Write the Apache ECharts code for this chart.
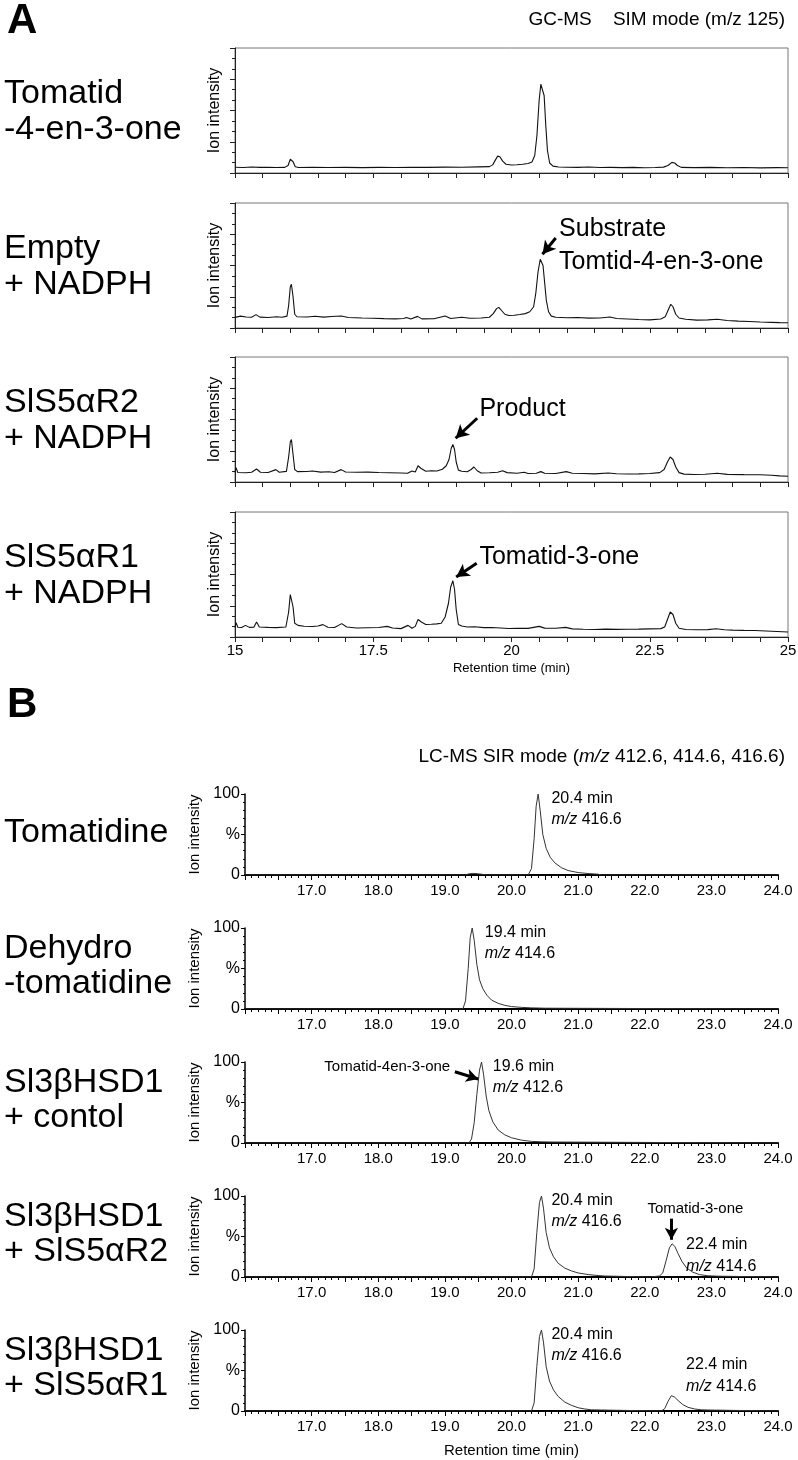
<!DOCTYPE html>
<html><head><meta charset="utf-8">
<script src="https://cdn.jsdelivr.net/npm/echarts@6/dist/echarts.min.js"></script>
<style>html,body{margin:0;padding:0;background:#fff}#c{width:798px;height:1460px}</style>
</head><body><div id="c"></div><script>
const FONT = '"Liberation Sans", Arial, Helvetica, sans-serif';

// ---------- Panel A : GC-MS SIM (m/z 125) ----------
const gcLabels = [['Tomatid','-4-en-3-one'],['Empty','+ NADPH'],['SlS5αR2','+ NADPH'],['SlS5αR1','+ NADPH']];
const gcTicks = [15, 17.5, 20, 22.5, 25];
const gcStandard = [[15.0,4.6],[15.15,4.4],[15.3,4.8],[15.45,4.5],[15.6,4.6],[15.75,4.4],[15.9,4.5],[15.96,6],[16.0,11],[16.02,12],[16.05,9],[16.09,5],[16.15,4.4],[16.4,4.6],[16.7,4.4],[17.0,4.5],[17.3,4.3],[17.6,4.5],[17.9,4.4],[18.2,4.6],[18.5,4.5],[18.8,4.7],[19.1,4.6],[19.4,4.9],[19.6,5.1],[19.66,6.5],[19.71,10.5],[19.75,13.5],[19.79,13],[19.84,9.5],[19.9,7],[20.0,6.4],[20.1,6.6],[20.2,7],[20.3,7.6],[20.37,8.8],[20.42,14],[20.46,30],[20.5,58],[20.53,71],[20.56,72],[20.59,62],[20.62,38],[20.65,18],[20.69,8],[20.75,5.5],[20.85,4.8],[21.0,4.6],[21.2,4.5],[21.4,4.8],[21.6,4.4],[21.8,4.5],[22.0,4.3],[22.2,4.5],[22.4,4.2],[22.6,4.4],[22.75,4.7],[22.83,6],[22.9,8.5],[22.95,8],[23.0,6],[23.07,4.5],[23.3,4.3],[23.6,4.5],[23.9,4.2],[24.2,4.4],[24.5,4.1],[24.8,4.3],[25.0,4.2]];
const gcEmpty = [[15.0,8.5],[15.1,9.5],[15.2,8.8],[15.3,8.6],[15.38,10.7],[15.45,8.7],[15.6,8.4],[15.75,9],[15.85,8.6],[15.94,9.5],[15.97,18],[16.0,33],[16.02,35],[16.05,25],[16.08,11],[16.12,9],[16.3,8.8],[16.45,9.4],[16.6,8.7],[16.75,9.2],[16.92,9.6],[17.05,8.4],[17.3,8],[17.5,7.8],[17.7,7.5],[17.9,7.3],[18.05,7.6],[18.1,8.4],[18.18,7.2],[18.3,9.3],[18.38,7.3],[18.6,7.4],[18.8,9.6],[18.9,7.6],[19.1,8.6],[19.25,7.8],[19.45,8],[19.6,8.6],[19.67,11.5],[19.73,15.5],[19.77,16.5],[19.82,14],[19.88,11],[19.95,10],[20.05,10.2],[20.15,10.8],[20.25,11.5],[20.33,13],[20.4,17],[20.44,28],[20.48,45],[20.52,55],[20.54,55.5],[20.57,50],[20.6,36],[20.63,22],[20.67,13],[20.72,9.5],[20.8,8.6],[21.0,8.2],[21.2,8.4],[21.4,7.9],[21.6,8],[21.78,8.8],[21.9,7.6],[22.1,7.2],[22.3,6.8],[22.5,6.5],[22.7,7.2],[22.78,9],[22.84,15],[22.88,19],[22.92,17],[22.97,11],[23.03,8],[23.15,7],[23.35,6.3],[23.55,6.5],[23.72,7],[23.9,6],[24.1,5.5],[24.3,5.2],[24.5,4.8],[24.7,4.5],[24.85,4.3],[25.0,4.2]];
const gcR2 = [[15.0,7.5],[15.02,11.5],[15.05,7.6],[15.2,7.4],[15.3,7.8],[15.39,10.4],[15.46,7.8],[15.6,7.6],[15.74,9.9],[15.8,7.8],[15.93,8.5],[15.97,20],[16.0,32],[16.02,34],[16.05,22],[16.08,10],[16.13,8.3],[16.3,8.4],[16.4,8.8],[16.55,7.9],[16.7,8.2],[16.8,7.6],[16.92,9.9],[17.0,8],[17.2,7.8],[17.4,7.9],[17.6,7.6],[17.8,7.4],[18.0,7.2],[18.12,7],[18.2,8.8],[18.26,8],[18.31,13],[18.36,11],[18.45,8.6],[18.55,9],[18.65,8.8],[18.75,10.2],[18.82,13],[18.87,18],[18.91,27],[18.94,30],[18.97,26],[19.0,16],[19.04,9.5],[19.1,8.6],[19.2,8.2],[19.27,10],[19.32,12],[19.38,9],[19.45,7.2],[19.6,7.4],[19.75,7.8],[19.84,9],[19.92,7.5],[20.1,7],[20.23,7.8],[20.3,6.8],[20.45,7],[20.53,8.3],[20.6,7],[20.8,6.8],[20.99,8.3],[21.1,7],[21.3,6.8],[21.5,6.5],[21.75,7.2],[21.9,6.6],[22.1,6.4],[22.3,6.5],[22.5,6.8],[22.68,7.5],[22.76,10],[22.82,16],[22.87,20],[22.92,18],[22.97,12],[23.03,7.5],[23.12,6.3],[23.3,6],[23.5,6.2],[23.72,7],[23.9,6.1],[24.2,5.9],[24.5,5.8],[24.7,5.4],[24.85,4.9],[25.0,4.6]];
const gcR1 = [[15.0,7.6],[15.02,11.5],[15.05,7.8],[15.12,7.6],[15.19,9.3],[15.26,7.7],[15.34,7.8],[15.39,12],[15.44,8],[15.6,7.7],[15.75,7.5],[15.92,8],[15.97,20],[16.0,34],[16.02,35.5],[16.05,24],[16.08,11],[16.14,9.3],[16.25,8.6],[16.4,8.4],[16.5,8.8],[16.59,9.9],[16.68,7.8],[16.8,7.6],[16.93,10.7],[17.02,8],[17.2,7.2],[17.4,7.4],[17.6,7.6],[17.75,8.5],[17.85,7.2],[18.0,6.7],[18.13,9.3],[18.2,7],[18.26,8.5],[18.31,14],[18.37,12],[18.45,10],[18.55,10.2],[18.65,10.5],[18.73,11],[18.8,16],[18.86,27],[18.9,40],[18.94,45],[18.97,38],[19.0,22],[19.04,10],[19.1,8.8],[19.2,8],[19.33,8.2],[19.5,7.5],[19.65,7.6],[19.8,7.2],[19.95,6.8],[20.1,6.9],[20.3,6.9],[20.5,8.5],[20.6,7.1],[20.8,7],[20.98,7.7],[21.1,6.5],[21.3,6.2],[21.5,6],[21.7,6.3],[21.9,6.1],[22.1,6.2],[22.3,6.3],[22.5,6.5],[22.7,6.7],[22.77,8],[22.82,14],[22.87,20],[22.92,18],[22.97,11],[23.03,7],[23.15,6],[23.35,5.8],[23.55,5.9],[23.7,6.6],[23.85,5.8],[24.0,5.5],[24.2,5.3],[24.4,5.2],[24.6,4.8],[24.8,4.4],[25.0,4.0]];

// ---------- Panel B : LC-MS SIR ----------
const lcLabels = [['Tomatidine'],['Dehydro','-tomatidine'],['Sl3βHSD1','+ contol'],['Sl3βHSD1','+ SlS5αR2'],['Sl3βHSD1','+ SlS5αR1']];
const lcTomatidine = [[16,0],[19.3,0],[19.35,1.2],[19.42,2],[19.5,1.5],[19.58,0.6],[19.65,0],[20.25,0],[20.3,8],[20.34,45],[20.37,85],[20.4,100],[20.43,80],[20.47,50],[20.52,33],[20.58,22],[20.65,15],[20.75,9],[20.85,5.5],[21.0,3],[21.15,1.8],[21.3,1],[21.35,0],[24,0]];
const lcDehydro = [[16,0],[19.27,0],[19.31,10],[19.35,50],[19.38,88],[19.41,100],[19.44,85],[19.48,55],[19.52,36],[19.57,25],[19.63,17],[19.7,11],[19.8,7],[19.9,4.5],[20.0,3],[20.15,2],[20.3,1.4],[20.5,1],[20.53,0],[24,0]];
const lcControl = [[16,0],[19.36,0],[19.4,5],[19.44,25],[19.48,60],[19.52,90],[19.55,100],[19.58,85],[19.62,58],[19.66,40],[19.72,26],[19.8,16],[19.9,10],[20.0,6.5],[20.15,3.5],[20.3,2],[20.45,1.5],[20.62,1.2],[20.64,0],[24,0]];
const lcR2 = [[16,0],[19.45,0],[19.5,0.8],[19.55,0],[20.3,0],[20.34,10],[20.38,55],[20.42,92],[20.45,100],[20.48,85],[20.52,55],[20.57,36],[20.63,25],[20.7,17],[20.8,11],[20.9,7.5],[21.0,5],[21.15,3],[21.3,1.8],[21.4,1.2],[21.42,0],[22.08,0],[22.1,1],[22.22,1.2],[22.27,5],[22.32,20],[22.37,36],[22.41,41],[22.45,38],[22.5,29],[22.56,19],[22.63,11],[22.72,6],[22.82,3],[22.95,1.5],[23.1,1],[23.12,0],[24,0]];
const lcR1 = [[16,0],[20.3,0],[20.34,10],[20.38,55],[20.42,92],[20.45,100],[20.48,85],[20.52,55],[20.57,37],[20.63,26],[20.7,18],[20.8,11],[20.9,7],[21.0,4],[21.1,2.5],[21.2,1.5],[21.35,1.2],[21.37,0],[22.25,0],[22.3,3],[22.35,12],[22.4,19],[22.45,17],[22.5,13],[22.57,8],[22.65,4.5],[22.75,2.5],[22.85,1.5],[22.95,1.2],[22.97,0],[24,0]];
const lcTicks = [17, 18, 19, 20, 21, 22, 23, 24];

// ---------- helpers ----------
function note(x, y, text, size, align) {
  return {coord:[x,y], symbol:'circle', symbolSize:1, itemStyle:{color:'rgba(0,0,0,0)'},
    label:{show:true, position:'inside', formatter:text, align:align||'left', verticalAlign:'middle',
      fontSize:size, fontFamily:FONT, color:'#000',
      rich:{it:{fontStyle:'italic', fontSize:size, fontFamily:FONT, color:'#000'}}}};
}
function arrow(x1, y1, x2, y2) { return [{coord:[x1,y1]},{coord:[x2,y2]}]; }

const gcSeries = [gcStandard, gcEmpty, gcR2, gcR1];
const gcNotes = [
  [],
  [note(20.86, 79, 'Substrate', 25), note(20.86, 53, 'Tomtid-4-en-3-one', 25)],
  [note(19.42, 58, 'Product', 25)],
  [note(19.42, 64, 'Tomatid-3-one', 25)]
];
const gcArrows = [[], [arrow(20.8, 72, 20.56, 59)], [arrow(19.38, 51, 18.99, 35)], [arrow(19.37, 59, 19.0, 48)]];

const lcSeries = [lcTomatidine, lcDehydro, lcControl, lcR2, lcR1];
const lcNotes = [
  [note(20.6, 94, '20.4 min', 16), note(20.6, 68, '{it|m/z} 416.6', 16)],
  [note(19.6, 94, '19.4 min', 16), note(19.6, 68, '{it|m/z} 414.6', 16)],
  [note(19.72, 94, '19.6 min', 16), note(19.72, 68, '{it|m/z} 412.6', 16), note(19.08, 94, 'Tomatid-4en-3-one', 15, 'right')],
  [note(20.6, 94, '20.4 min', 16), note(20.6, 68, '{it|m/z} 416.6', 16), note(22.76, 84, 'Tomatid-3-one', 15, 'center'),
   note(22.62, 40, '22.4 min', 16), note(22.62, 13, '{it|m/z} 414.6', 16)],
  [note(20.6, 94, '20.4 min', 16), note(20.6, 68, '{it|m/z} 416.6', 16),
   note(22.62, 57, '22.4 min', 16), note(22.62, 30, '{it|m/z} 414.6', 16)]
];
const lcArrows = [[], [], [arrow(19.15, 88, 19.5, 79)], [arrow(22.4, 72, 22.4, 46)], []];

const grids=[], xAxes=[], yAxes=[], series=[], graphics=[];
const gcTops=[48,203,357,512], gcH=125;
const lcTops=[794,928,1062,1196,1330], lcH=81;
const near = (v, arr) => arr.some(t => Math.abs(t - v) < 1e-6);

gcSeries.forEach((d,i)=>{
  grids.push({left:235, right:10, top:gcTops[i], height:gcH, show:true, borderColor:'#777', borderWidth:1, outerBoundsMode:'none'});
  xAxes.push({type:'value', gridIndex:i, min:15, max:25, interval:0.5,
    axisLine:{lineStyle:{color:'#222', width:1}}, axisTick:{length:5, lineStyle:{color:'#222'}},
    axisLabel:{show:i===3, showMinLabel:true, showMaxLabel:true, margin:6, fontSize:15, fontFamily:FONT, color:'#000',
      formatter: v => near(v, gcTicks) ? String(+v.toFixed(1)) : ''},
    splitLine:{show:false},
    name: i===3 ? 'Retention time (min)' : '', nameLocation:'middle', nameGap:25,
    nameTextStyle:{fontSize:13, fontFamily:FONT, color:'#000'}});
  yAxes.push({type:'value', gridIndex:i, min:0, max:100, interval:25,
    axisLine:{show:true, lineStyle:{color:'#222', width:1}},
    axisTick:{show:true, length:5, lineStyle:{color:'#222'}},
    minorTick:{show:true, splitNumber:3, length:3, lineStyle:{color:'#222'}},
    axisLabel:{show:false}, splitLine:{show:false},
    name:'Ion intensity', nameLocation:'middle', nameGap:12,
    nameTextStyle:{fontSize:16, fontFamily:FONT, color:'#000'}});
  series.push({type:'line', xAxisIndex:i, yAxisIndex:i, data:d, symbol:'none', showSymbol:false,
    lineStyle:{color:'#111', width:1.1}, animation:false, silent:true,
    markPoint:{silent:true, animation:false, data:gcNotes[i]},
    markLine:{silent:true, animation:false, symbol:['none','arrow'], symbolSize:[11,13],
      lineStyle:{color:'#000', width:3, type:'solid'}, label:{show:false}, data:gcArrows[i]}});
  graphics.push({type:'text', x:4, y:gcTops[i]+46, style:{text:gcLabels[i][0], font:'34px '+FONT, fill:'#000', verticalAlign:'middle'}});
  graphics.push({type:'text', x:4, y:gcTops[i]+82, style:{text:gcLabels[i][1], font:'34px '+FONT, fill:'#000', verticalAlign:'middle'}});
});

lcSeries.forEach((d,j)=>{
  const i = j + 4;
  const last = j === 4;
  grids.push({left:245, right:20, top:lcTops[j], height:lcH, outerBoundsMode:'none'});
  xAxes.push({type:'value', gridIndex:i, min:16, max:24, interval:0.5,
    axisLine:{lineStyle:{color:'#000', width:2}},
    axisTick:{length:5, lineStyle:{color:'#000'}},
    minorTick:{show:true, splitNumber:5, length:3, lineStyle:{color:'#000'}},
    axisLabel:{showMinLabel:true, showMaxLabel:true, margin:8, fontSize:15, fontFamily:FONT, color:'#000',
      formatter: v => near(v, lcTicks) ? v.toFixed(1) : ''},
    splitLine:{show:false},
    name: last ? 'Retention time (min)' : '', nameLocation:'middle', nameGap:32,
    nameTextStyle:{fontSize:15, fontFamily:FONT, color:'#000'}});
  yAxes.push({type:'value', gridIndex:i, min:0, max:100, interval:50,
    axisLine:{show:true, lineStyle:{color:'#000', width:1.5}},
    axisTick:{show:true, length:4, lineStyle:{color:'#000'}},
    minorTick:{show:true, splitNumber:5, length:2, lineStyle:{color:'#000'}},
    axisLabel:{margin:5, fontSize:16, fontFamily:FONT, color:'#000',
      formatter: v => v === 100 ? '100' : (v === 0 ? '0' : '%')},
    splitLine:{show:false},
    name:'Ion intensity', nameLocation:'middle', nameGap:28,
    nameTextStyle:{fontSize:15, fontFamily:FONT, color:'#000'}});
  series.push({type:'line', xAxisIndex:i, yAxisIndex:i, data:d, symbol:'none', showSymbol:false,
    lineStyle:{color:'#333', width:1}, animation:false, silent:true, z:1,
    markPoint:{silent:true, animation:false, data:lcNotes[j]},
    markLine:{silent:true, animation:false, symbol:['none','arrow'], symbolSize:[10,12],
      lineStyle:{color:'#000', width:3, type:'solid'}, label:{show:false}, data:lcArrows[j]}});
  const mid = lcTops[j] + lcH/2;
  const lines = lcLabels[j];
  if (lines.length === 1) {
    graphics.push({type:'text', x:4, y:mid-2, style:{text:lines[0], font:'34px '+FONT, fill:'#000', verticalAlign:'middle'}});
  } else {
    graphics.push({type:'text', x:4, y:mid-20, style:{text:lines[0], font:'34px '+FONT, fill:'#000', verticalAlign:'middle'}});
    graphics.push({type:'text', x:4, y:mid+15, style:{text:lines[1], font:'34px '+FONT, fill:'#000', verticalAlign:'middle'}});
  }
});

graphics.push({type:'text', x:7, y:21, style:{text:'A', font:'bold 42px '+FONT, fill:'#000', verticalAlign:'middle'}});
graphics.push({type:'text', x:7, y:705, style:{text:'B', font:'bold 42px '+FONT, fill:'#000', verticalAlign:'middle'}});
graphics.push({type:'text', x:785, y:20, style:{text:'GC-MS    SIM mode (m/z 125)', font:'19px '+FONT, fill:'#000', align:'right', verticalAlign:'middle'}});
graphics.push({type:'text', x:785, y:757, style:{text:'LC-MS SIR mode ({it|m/z} 412.6, 414.6, 416.6)', font:'19px '+FONT, fill:'#000', align:'right', verticalAlign:'middle',
  rich:{it:{fontStyle:'italic', fontSize:19, fontFamily:FONT, fill:'#000'}}}});

const chart = echarts.init(document.getElementById('c'), null, {renderer:'canvas'});
chart.setOption({
  animation:false, backgroundColor:'#fff',
  textStyle:{fontFamily:FONT},
  grid:grids, xAxis:xAxes, yAxis:yAxes, series:series, graphic:{elements:graphics}
});
</script></body></html>
